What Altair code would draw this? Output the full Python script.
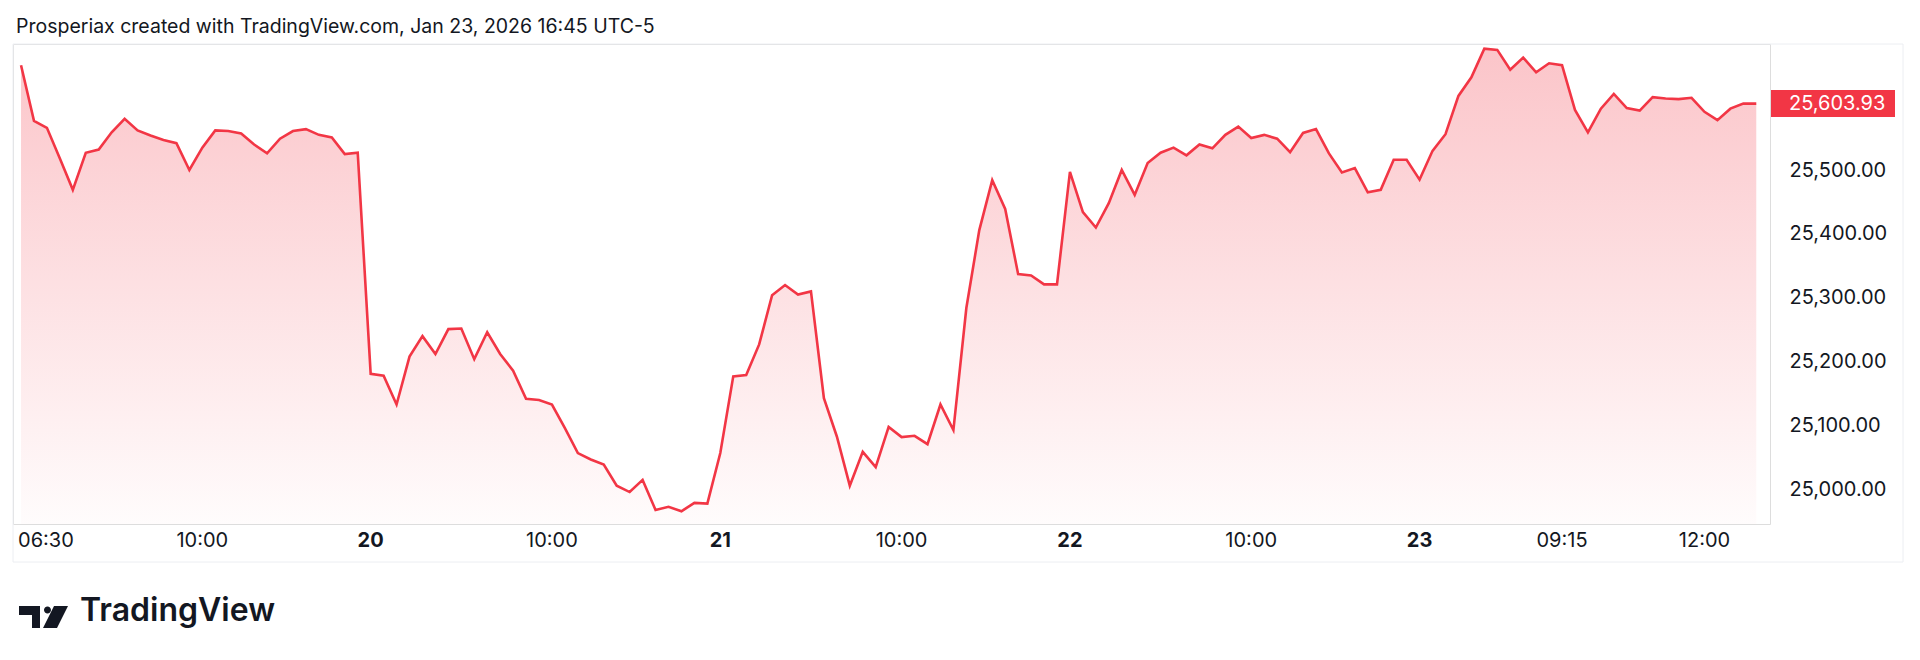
import altair as alt
import pandas as pd

# ---- data (15-minute bars, sessions 06:30-13:00) ----
prices = [
    25664, 25577, 25566, 25518, 25469, 25527, 25532, 25559, 25580, 25562,
    25554, 25547, 25542, 25500, 25535, 25562, 25561, 25557, 25540, 25526,
    25549, 25561, 25564, 25555, 25551, 25525, 25527,
    25181, 25178, 25133, 25208, 25240, 25212, 25251, 25252, 25204, 25246,
    25212, 25186, 25142, 25140, 25133, 25096, 25057, 25047, 25039, 25006,
    24996, 25015, 24968, 24973, 24966, 24979, 24978,
    25057, 25177, 25179, 25227, 25304, 25320, 25305, 25310, 25143, 25083,
    25006, 25059, 25035, 25098, 25082, 25084, 25071, 25133, 25093, 25284,
    25406, 25484, 25439, 25337, 25335, 25321, 25321,
    25497, 25434, 25410, 25448, 25500, 25461, 25511, 25527, 25535, 25523,
    25540, 25534, 25555, 25568, 25550, 25555, 25549, 25528, 25558, 25564,
    25526, 25496, 25503, 25465, 25469, 25516, 25516,
    25485, 25530, 25556, 25616, 25645, 25690, 25688, 25657, 25676, 25653,
    25667, 25664, 25594, 25559, 25596, 25619, 25597, 25593, 25614, 25612,
    25611, 25613, 25591, 25578, 25596, 25604, 25603.93,
]
bar_index = list(range(len(prices)))

time_labels = ["10:00", "10:00", "10:00", "10:00", "09:15", "12:00"]
time_label_index = [14, 41, 68, 95, 119, 130]
day_labels = ["20", "21", "22", "23"]
day_label_index = [27, 54, 81, 108]
first_label = ["06:30"]
first_label_index = [0]

price_ticks = [25000, 25100, 25200, 25300, 25400, 25500]
last_price = prices[-1]

title_text = "Prosperiax created with TradingView.com, Jan 23, 2026 16:45 UTC-5"

RED = "#F23645"
INK = "#131722"
FONT = "Inter"

W, H = 1757, 480
Y_MIN, Y_MAX = 24946.0, 25697.2
X_MIN, X_MAX = -0.62, 135.06

df = pd.DataFrame({"i": bar_index, "price": prices})

xs = alt.Scale(domain=[X_MIN, X_MAX], nice=False, zero=False)
ys = alt.Scale(domain=[Y_MIN, Y_MAX], nice=False, zero=False)

base = alt.Chart(df)

area = base.mark_area(
    fill=alt.Gradient(
        gradient="linear",
        stops=[
            alt.GradientStop(color="rgba(242,54,69,0.29)", offset=0),
            alt.GradientStop(color="rgba(242,54,69,0.015)", offset=1),
        ],
        x1=1, x2=1, y1=0, y2=1,
    ),
    strokeWidth=0,
    strokeOpacity=0,
).encode(
    x=alt.X("i:Q", scale=xs, axis=None),
    y=alt.Y("price:Q", scale=ys,
            axis=alt.Axis(orient="right", values=price_ticks, format=",.2f",
                          ticks=False, domain=False, grid=False,
                          labelFont=FONT, labelFontSize=20, labelColor=INK,
                          labelPadding=19, labelAlign="left", title=None)),
    y2=alt.datum(Y_MIN),
)

line = base.mark_line(color=RED, strokeWidth=2.6, strokeJoin="miter").encode(
    x=alt.X("i:Q", scale=xs),
    y=alt.Y("price:Q", scale=ys),
)

tl = pd.DataFrame({"i": time_label_index, "t": time_labels})
time_text = alt.Chart(tl).mark_text(
    font=FONT, fontSize=20, color=INK, baseline="middle", align="center"
).encode(x=alt.X("i:Q", scale=xs), y=alt.value(497), text="t:N")

dl = pd.DataFrame({"i": day_label_index, "t": day_labels})
day_text = alt.Chart(dl).mark_text(
    font=FONT, fontSize=20, fontWeight="bold", color=INK, baseline="middle", align="center"
).encode(x=alt.X("i:Q", scale=xs), y=alt.value(497), text="t:N")

fl = pd.DataFrame({"i": first_label_index, "t": first_label})
first_text = alt.Chart(fl).mark_text(
    font=FONT, fontSize=20, color=INK, baseline="middle", align="left", dx=-3
).encode(x=alt.X("i:Q", scale=xs), y=alt.value(497), text="t:N")

lp = pd.DataFrame({"price": [last_price], "t": [f"{last_price:,.2f}"]})
price_box = alt.Chart(lp).mark_rule(color=RED, strokeWidth=27, strokeCap="butt").encode(
    y=alt.Y("price:Q", scale=ys), x=alt.value(1758), x2=alt.value(1882)
)
price_text = alt.Chart(lp).mark_text(
    font=FONT, fontSize=20, color="white", align="left", baseline="middle"
).encode(y=alt.Y("price:Q", scale=ys), x=alt.value(1776), text="t:N")

title = alt.Chart(pd.DataFrame({"t": [title_text]})).mark_text(
    font=FONT, fontSize=19.5, color=INK, align="left", baseline="middle"
).encode(x=alt.value(3), y=alt.value(-17), text="t:N")

frame = alt.Chart(pd.DataFrame({"a": [0]})).mark_rect(
    fill=None, stroke="#eceef2", strokeWidth=1
).encode(x=alt.value(0), x2=alt.value(1890), y=alt.value(0), y2=alt.value(518))

logo_path = ("M-1,-0.449 L-0.143,-0.449 L-0.143,0.449 L-0.469,0.449 L-0.469,-0.082 L-1,-0.082 Z "
             "M0.02,-0.286 A0.143,0.143 0 1,0 0.306,-0.286 A0.143,0.143 0 1,0 0.02,-0.286 Z "
             "M0.429,-0.449 L1,-0.449 L0.551,0.449 L-0.02,0.449 Z")
logo_icon = alt.Chart(pd.DataFrame({"a": [0]})).mark_point(
    shape=logo_path, filled=True, color=INK, opacity=1, size=2401, strokeWidth=0
).encode(x=alt.value(30.5), y=alt.value(573))
logo_text = alt.Chart(pd.DataFrame({"t": ["TradingView"]})).mark_text(
    font=FONT, fontSize=32, fontWeight=600, color=INK, align="left", baseline="middle"
).encode(x=alt.value(67), y=alt.value(567), text="t:N")

chart = alt.layer(
    frame, area, line, time_text, day_text, first_text, price_box, price_text,
    title, logo_icon, logo_text
).properties(
    width=W, height=H,
    padding={"left": 5, "top": 36, "right": 142, "bottom": 116},
    autosize=alt.AutoSizeParams(type="none"),
).configure_view(stroke=None).configure(background="white")

chart.save("out.html", embed_options={"renderer": "svg", "actions": False})
